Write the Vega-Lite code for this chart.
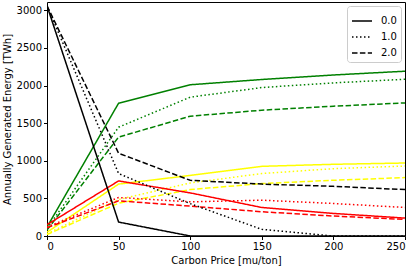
{
  "$schema": "https://vega.github.io/schema/vega-lite/v6.json",
  "width": 358,
  "height": 234,
  "autosize": "none",
  "padding": {"left": 47, "top": 2, "right": 10, "bottom": 30},
  "background": "white",
  "config": {
    "font": "DejaVu Sans",
    "view": {"stroke": "black", "strokeWidth": 1},
    "axis": {
      "domain": false,
      "grid": false,
      "tickColor": "black",
      "tickSize": 3.5,
      "labelColor": "black",
      "labelFontSize": 10,
      "labelPadding": 2,
      "titleColor": "black",
      "titleFontSize": 10,
      "titleFontWeight": "normal"
    }
  },
  "data": {
    "values": [
      {"price": 0, "energy": 120, "tech": "g", "scen": "0.0"},
      {"price": 50, "energy": 1765, "tech": "g", "scen": "0.0"},
      {"price": 100, "energy": 2010, "tech": "g", "scen": "0.0"},
      {"price": 150, "energy": 2080, "tech": "g", "scen": "0.0"},
      {"price": 200, "energy": 2140, "tech": "g", "scen": "0.0"},
      {"price": 250, "energy": 2190, "tech": "g", "scen": "0.0"},
      {"price": 0, "energy": 100, "tech": "g", "scen": "1.0"},
      {"price": 50, "energy": 1446, "tech": "g", "scen": "1.0"},
      {"price": 100, "energy": 1845, "tech": "g", "scen": "1.0"},
      {"price": 150, "energy": 1973, "tech": "g", "scen": "1.0"},
      {"price": 200, "energy": 2035, "tech": "g", "scen": "1.0"},
      {"price": 250, "energy": 2083, "tech": "g", "scen": "1.0"},
      {"price": 0, "energy": 80, "tech": "g", "scen": "2.0"},
      {"price": 50, "energy": 1314, "tech": "g", "scen": "2.0"},
      {"price": 100, "energy": 1592, "tech": "g", "scen": "2.0"},
      {"price": 150, "energy": 1672, "tech": "g", "scen": "2.0"},
      {"price": 200, "energy": 1725, "tech": "g", "scen": "2.0"},
      {"price": 250, "energy": 1769, "tech": "g", "scen": "2.0"},
      {"price": 0, "energy": 50, "tech": "y", "scen": "0.0"},
      {"price": 50, "energy": 690, "tech": "y", "scen": "0.0"},
      {"price": 100, "energy": 805, "tech": "y", "scen": "0.0"},
      {"price": 150, "energy": 926, "tech": "y", "scen": "0.0"},
      {"price": 200, "energy": 953, "tech": "y", "scen": "0.0"},
      {"price": 250, "energy": 970, "tech": "y", "scen": "0.0"},
      {"price": 0, "energy": 30, "tech": "y", "scen": "1.0"},
      {"price": 50, "energy": 485, "tech": "y", "scen": "1.0"},
      {"price": 100, "energy": 705, "tech": "y", "scen": "1.0"},
      {"price": 150, "energy": 830, "tech": "y", "scen": "1.0"},
      {"price": 200, "energy": 895, "tech": "y", "scen": "1.0"},
      {"price": 250, "energy": 930, "tech": "y", "scen": "1.0"},
      {"price": 0, "energy": 20, "tech": "y", "scen": "2.0"},
      {"price": 50, "energy": 436, "tech": "y", "scen": "2.0"},
      {"price": 100, "energy": 617, "tech": "y", "scen": "2.0"},
      {"price": 150, "energy": 697, "tech": "y", "scen": "2.0"},
      {"price": 200, "energy": 741, "tech": "y", "scen": "2.0"},
      {"price": 250, "energy": 776, "tech": "y", "scen": "2.0"},
      {"price": 0, "energy": 150, "tech": "r", "scen": "0.0"},
      {"price": 50, "energy": 732, "tech": "r", "scen": "0.0"},
      {"price": 100, "energy": 573, "tech": "r", "scen": "0.0"},
      {"price": 150, "energy": 379, "tech": "r", "scen": "0.0"},
      {"price": 200, "energy": 300, "tech": "r", "scen": "0.0"},
      {"price": 250, "energy": 238, "tech": "r", "scen": "0.0"},
      {"price": 0, "energy": 120, "tech": "r", "scen": "1.0"},
      {"price": 50, "energy": 512, "tech": "r", "scen": "1.0"},
      {"price": 100, "energy": 454, "tech": "r", "scen": "1.0"},
      {"price": 150, "energy": 476, "tech": "r", "scen": "1.0"},
      {"price": 200, "energy": 432, "tech": "r", "scen": "1.0"},
      {"price": 250, "energy": 379, "tech": "r", "scen": "1.0"},
      {"price": 0, "energy": 110, "tech": "r", "scen": "2.0"},
      {"price": 50, "energy": 467, "tech": "r", "scen": "2.0"},
      {"price": 100, "energy": 397, "tech": "r", "scen": "2.0"},
      {"price": 150, "energy": 322, "tech": "r", "scen": "2.0"},
      {"price": 200, "energy": 265, "tech": "r", "scen": "2.0"},
      {"price": 250, "energy": 221, "tech": "r", "scen": "2.0"},
      {"price": 0, "energy": 3060, "tech": "k", "scen": "0.0"},
      {"price": 50, "energy": 185, "tech": "k", "scen": "0.0"},
      {"price": 100, "energy": 0, "tech": "k", "scen": "0.0"},
      {"price": 150, "energy": 0, "tech": "k", "scen": "0.0"},
      {"price": 200, "energy": 0, "tech": "k", "scen": "0.0"},
      {"price": 250, "energy": 0, "tech": "k", "scen": "0.0"},
      {"price": 0, "energy": 3060, "tech": "k", "scen": "1.0"},
      {"price": 50, "energy": 830, "tech": "k", "scen": "1.0"},
      {"price": 100, "energy": 430, "tech": "k", "scen": "1.0"},
      {"price": 150, "energy": 88, "tech": "k", "scen": "1.0"},
      {"price": 200, "energy": 0, "tech": "k", "scen": "1.0"},
      {"price": 250, "energy": 0, "tech": "k", "scen": "1.0"},
      {"price": 0, "energy": 3060, "tech": "k", "scen": "2.0"},
      {"price": 50, "energy": 1100, "tech": "k", "scen": "2.0"},
      {"price": 100, "energy": 740, "tech": "k", "scen": "2.0"},
      {"price": 150, "energy": 690, "tech": "k", "scen": "2.0"},
      {"price": 200, "energy": 660, "tech": "k", "scen": "2.0"},
      {"price": 250, "energy": 617, "tech": "k", "scen": "2.0"}
    ]
  },
  "mark": {"type": "line", "strokeWidth": 1.5, "clip": true},
  "encoding": {
    "x": {
      "field": "price",
      "type": "quantitative",
      "scale": {"domain": [0, 250], "nice": false, "zero": false},
      "axis": {"values": [0, 50, 100, 150, 200, 250], "format": "d", "title": "Carbon Price [mu/ton]", "titlePadding": 4}
    },
    "y": {
      "field": "energy",
      "type": "quantitative",
      "scale": {"domain": [0, 3110], "nice": false},
      "axis": {"values": [0, 500, 1000, 1500, 2000, 2500, 3000], "format": "d", "title": "Annually Generated Energy [TWh]", "titlePadding": 4}
    },
    "color": {
      "field": "tech",
      "type": "nominal",
      "scale": {"domain": ["g", "y", "r", "k"], "range": ["green", "yellow", "red", "black"]},
      "legend": null
    },
    "strokeDash": {
      "field": "scen",
      "type": "nominal",
      "scale": {"domain": ["0.0", "1.0", "2.0"], "range": [[1, 0], [1.5, 2.5], [5.5, 2.4]]},
      "legend": {
        "title": null,
        "orient": "top-right",
        "offset": 4,
        "padding": 4,
        "cornerRadius": 3,
        "strokeColor": "#cccccc",
        "fillColor": "white",
        "symbolType": "stroke",
        "symbolSize": 400,
        "symbolStrokeWidth": 1.5,
        "symbolStrokeColor": "black",
        "labelFontSize": 10,
        "labelColor": "black",
        "labelOffset": 8,
        "rowPadding": -6
      }
    },
    "order": {"field": "price", "type": "quantitative"}
  }
}
